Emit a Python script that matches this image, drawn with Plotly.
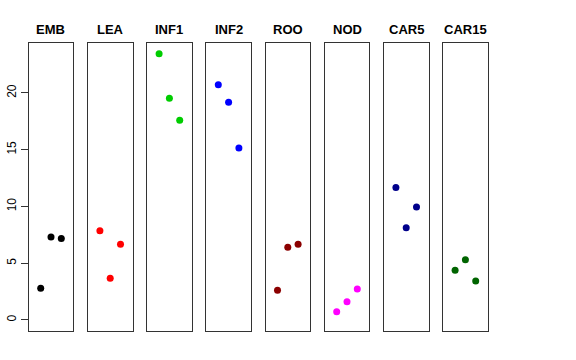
import plotly.graph_objects as go

tissues = ["EMB", "LEA", "INF1", "INF2", "ROO", "NOD", "CAR5", "CAR15"]
colors = ["#000000", "#FF0000", "#00CD00", "#0000FF", "#8B0000", "#FF00FF", "#00008B", "#006400"]
rep_x = [1, 2, 3]
emb = [2.79, 7.31, 7.17]
lea = [7.87, 3.67, 6.67]
inf1 = [23.46, 19.53, 17.59]
inf2 = [20.73, 19.18, 15.15]
roo = [2.61, 6.40, 6.67]
nod = [0.73, 1.61, 2.73]
car5 = [11.66, 8.13, 9.96]
car15 = [4.38, 5.31, 3.44]
values = [emb, lea, inf1, inf2, roo, nod, car5, car15]
y_ticks = [0, 5, 10, 15, 20]

W, H = 576, 360
fig = go.Figure()
left0, step, width = 28.7, 59.2, 44.6
top, bottom = 43, 331
layout = dict(
    width=W, height=H, margin=dict(l=0, r=0, t=0, b=0),
    plot_bgcolor="white", paper_bgcolor="white", showlegend=False,
    font=dict(family="Liberation Sans, Arial, sans-serif", color="black"),
)
annotations = []
for i, (name, col, vals) in enumerate(zip(tissues, colors, values)):
    n = "" if i == 0 else str(i + 1)
    fig.add_trace(go.Scatter(x=rep_x, y=vals, mode="markers",
                             marker=dict(color=col, size=7),
                             xaxis="x" + n, yaxis="y" + n, hoverinfo="skip"))
    l = (left0 + step * i) / W
    r = (left0 + step * i + width) / W
    layout["xaxis" + n] = dict(domain=[l, r], range=[-0.165, 4.165], showgrid=False,
                               zeroline=False, showticklabels=False, ticks="",
                               showline=True, mirror=True, linecolor="#333", linewidth=1,
                               anchor="y" + n)
    ya = dict(domain=[1 - bottom / H, 1 - top / H], range=[-0.97, 24.4], showgrid=False,
              zeroline=False, showline=True, mirror=True, linecolor="#333", linewidth=1,
              anchor="x" + n, automargin=False)
    if i == 0:
        ya.update(tickvals=y_ticks, ticks="outside", ticklen=7, tickcolor="#333",
                  tickangle=-90, tickfont=dict(size=12, color="black"))
    else:
        ya.update(matches="y", showticklabels=False, ticks="")
    layout["yaxis" + n] = ya
    annotations.append(dict(text="<b>" + name + "</b>", x=(l + r) / 2, y=1 - 29.5 / H,
                            xref="paper", yref="paper", showarrow=False,
                            xanchor="center", yanchor="middle",
                            font=dict(size=13, color="black")))
layout["annotations"] = annotations
fig.update_layout(**layout)
fig.write_html("out.html", config={"displayModeBar": False},
               post_script="document.body.style.margin='0';")
